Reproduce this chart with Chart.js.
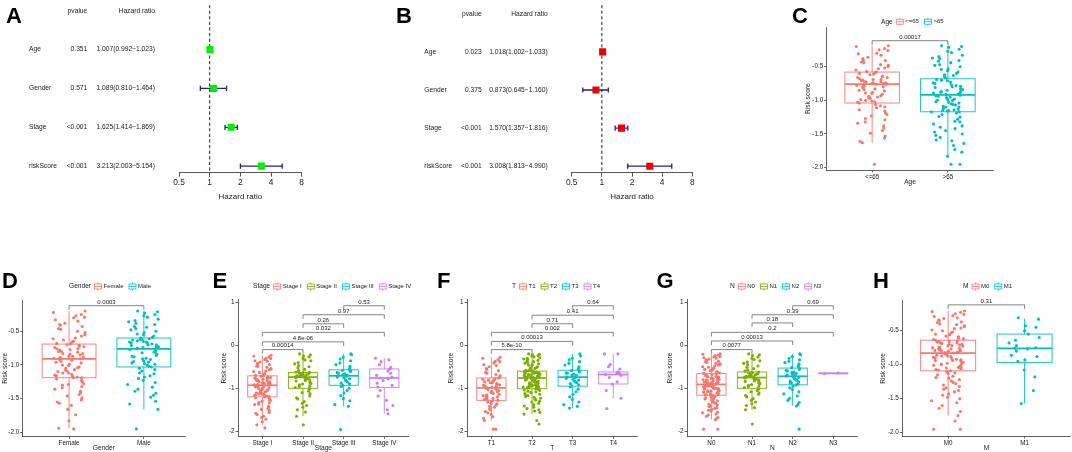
<!DOCTYPE html>
<html><head><meta charset="utf-8">
<script src="https://cdn.jsdelivr.net/npm/chart.js@4.4.1/dist/chart.umd.min.js"></script>
<style>
html,body{margin:0;padding:0;background:#fff;}
body{width:1072px;height:452px;position:relative;overflow:hidden;}
canvas{position:absolute;}
</style>
</head><body>
<script>
// ---------------- DATA ----------------
const forestVars = ['Age','Gender','Stage','riskScore'];
const uniP  = ['0.351','0.571','<0.001','<0.001'];
const uniHR = [1.007,1.089,1.625,3.213];
const uniLo = [0.992,0.810,1.414,2.003];
const uniHi = [1.023,1.464,1.869,5.154];
const multiP  = ['0.023','0.375','<0.001','<0.001'];
const multiHR = [1.018,0.873,1.570,3.008];
const multiLo = [1.002,0.645,1.357,1.813];
const multiHi = [1.033,1.160,1.816,4.990];
const hrTicks = [0.5,1,2,4,8];

const riskTicksDec = [-2,-1.5,-1,-0.5];
const riskLabelsDec = ['-2.0','-1.5','-1.0','-0.5'];
const riskTicksInt = [-2,-1,0,1];
const riskLabelsInt = ['-2','-1','0','1'];

const ageCats = ['<=65','>65'];
const genderCats = ['Female','Male'];
const stageCats = ['Stage I','Stage II','Stage III','Stage IV'];
const tCats = ['T1','T2','T3','T4'];
const nCats = ['N0','N1','N2','N3'];
const mCats = ['M0','M1'];

// box stats: [lower whisker, q1, median, q3, upper whisker]
const ageStats = [[-1.63,-1.04,-0.76,-0.58,-0.19],[-1.83,-1.17,-0.92,-0.68,-0.19]];
const genderStats = [[-1.94,-1.19,-0.91,-0.69,-0.2],[-1.66,-1.03,-0.76,-0.6,-0.2]];
const stageStats = [[-1.85,-1.2,-0.93,-0.71,-0.23],[-1.65,-1.0,-0.74,-0.63,-0.2],[-1.42,-0.93,-0.71,-0.57,-0.2],[-1.59,-0.98,-0.76,-0.55,-0.3]];
const tStats = [[-1.75,-1.28,-0.99,-0.76,-0.28],[-1.6,-1.01,-0.76,-0.6,-0.2],[-1.46,-0.95,-0.74,-0.58,-0.2],[-1.23,-0.9,-0.68,-0.62,-0.2]];
const nStats = [[-1.73,-1.16,-0.91,-0.66,-0.2],[-1.5,-1.0,-0.75,-0.62,-0.2],[-1.41,-0.92,-0.72,-0.53,-0.2],[-0.66,-0.658,-0.653,-0.648,-0.645]];
const mStats = [[-1.75,-1.09,-0.83,-0.64,-0.21],[-1.57,-0.97,-0.76,-0.55,-0.32]];

// comparisons: [group a, group b, p label, bracket level]
const ageBr = [[1,2,'0.00017',-0.114]];
const genderBr = [[1,2,'0.0003',-0.12]];
const stageBr = [[1,2,'0.00014',-0.1],[1,3,'4.8e-06',0.08],[1,4,'0.032',0.3],[2,3,'0.26',0.5],[2,4,'0.97',0.71],[3,4,'0.53',0.92]];
const tBr = [[1,2,'5.8e-10',-0.1],[1,3,'0.00013',0.09],[1,4,'0.002',0.3],[2,3,'0.71',0.5],[2,4,'0.41',0.7],[3,4,'0.64',0.92]];
const nBr = [[1,2,'0.0077',-0.1],[1,3,'0.00013',0.1],[1,4,'0.2',0.3],[2,3,'0.18',0.52],[2,4,'0.39',0.71],[3,4,'0.69',0.92]];
const mBr = [[1,2,'0.31',-0.12]];

// risk scores per group
const ageLe65 = [-0.19,-0.2,-0.23,-0.25,-0.26,-0.3,-0.31,-0.33,-0.36,-0.38,-0.4,-0.41,-0.43,-0.44,-0.47,-0.48,-0.5,-0.52,-0.53,-0.55,-0.57,-0.58,
-0.59,-0.6,-0.61,-0.62,-0.64,-0.65,-0.66,-0.66,-0.68,-0.69,-0.69,-0.7,-0.71,-0.72,-0.72,-0.73,-0.74,-0.74,-0.75,-0.75,-0.76,-0.76,-0.77,
-0.78,-0.79,-0.8,-0.81,-0.83,-0.84,-0.85,-0.86,-0.88,-0.89,-0.9,-0.91,-0.93,-0.94,-0.95,-0.96,-0.97,-0.99,-1.0,-1.01,-1.02,-1.03,-1.04,
-1.06,-1.08,-1.1,-1.11,-1.14,-1.16,-1.19,-1.21,-1.23,-1.27,-1.29,-1.32,-1.34,-1.38,-1.41,-1.45,-1.49,-1.53,-1.56,-1.61,-1.63,-1.95];
const ageGt65 = [-0.19,-0.2,-0.21,-0.24,-0.27,-0.29,-0.33,-0.35,-0.37,-0.38,-0.41,-0.42,-0.44,-0.47,-0.48,-0.5,-0.53,-0.54,-0.56,-0.58,-0.6,-0.62,-0.63,-0.65,-0.67,
-0.69,-0.7,-0.71,-0.73,-0.74,-0.75,-0.77,-0.78,-0.79,-0.8,-0.81,-0.83,-0.83,-0.84,-0.85,-0.87,-0.87,-0.88,-0.89,-0.9,-0.9,-0.91,-0.91,-0.92,-0.92,
-0.93,-0.94,-0.95,-0.96,-0.98,-0.99,-1.0,-1.0,-1.02,-1.03,-1.04,-1.05,-1.06,-1.07,-1.09,-1.1,-1.1,-1.12,-1.13,-1.14,-1.15,-1.15,-1.16,-1.17,-1.17,
-1.19,-1.21,-1.24,-1.25,-1.28,-1.31,-1.32,-1.35,-1.38,-1.4,-1.42,-1.45,-1.47,-1.5,-1.52,-1.55,-1.59,-1.6,-1.64,-1.67,-1.73,-1.77,-1.83,-1.95,-1.95];
const female = [-0.2,-0.22,-0.25,-0.27,-0.29,-0.3,-0.33,-0.35,-0.38,-0.4,-0.41,-0.43,-0.46,-0.47,-0.5,-0.52,-0.55,-0.57,-0.6,-0.61,-0.63,-0.65,-0.66,-0.68,
-0.69,-0.7,-0.71,-0.72,-0.73,-0.74,-0.76,-0.76,-0.77,-0.78,-0.8,-0.8,-0.81,-0.83,-0.83,-0.84,-0.85,-0.87,-0.87,-0.88,-0.89,-0.9,-0.9,-0.91,
-0.92,-0.93,-0.95,-0.96,-0.97,-0.99,-1.0,-1.01,-1.03,-1.04,-1.05,-1.07,-1.08,-1.09,-1.1,-1.12,-1.12,-1.14,-1.15,-1.16,-1.17,-1.18,-1.19,-1.19,
-1.21,-1.23,-1.25,-1.28,-1.29,-1.3,-1.32,-1.34,-1.36,-1.39,-1.41,-1.44,-1.46,-1.49,-1.52,-1.55,-1.57,-1.6,-1.66,-1.74,-1.83,-1.94,-1.95];
const male = [-0.2,-0.21,-0.23,-0.25,-0.27,-0.29,-0.32,-0.34,-0.36,-0.38,-0.4,-0.43,-0.44,-0.46,-0.48,-0.5,-0.52,-0.54,-0.55,-0.57,-0.59,
-0.6,-0.61,-0.62,-0.62,-0.63,-0.64,-0.65,-0.66,-0.66,-0.67,-0.68,-0.69,-0.7,-0.7,-0.71,-0.72,-0.73,-0.73,-0.74,-0.75,-0.75,-0.76,
-0.77,-0.78,-0.8,-0.81,-0.82,-0.84,-0.86,-0.87,-0.88,-0.9,-0.91,-0.92,-0.94,-0.95,-0.96,-0.97,-0.98,-0.99,-1.0,-1.02,-1.03,
-1.05,-1.07,-1.09,-1.12,-1.13,-1.16,-1.18,-1.2,-1.23,-1.26,-1.29,-1.33,-1.36,-1.39,-1.42,-1.45,-1.48,-1.54,-1.58,-1.66,-1.95];
const stageI = [-0.23,-0.25,-0.27,-0.3,-0.31,-0.33,-0.36,-0.37,-0.39,-0.42,-0.43,-0.45,-0.48,-0.49,-0.51,-0.54,-0.55,-0.57,-0.6,-0.61,-0.63,-0.66,-0.67,-0.7,
-0.71,-0.72,-0.73,-0.75,-0.75,-0.76,-0.78,-0.78,-0.79,-0.8,-0.82,-0.82,-0.83,-0.85,-0.85,-0.86,-0.88,-0.88,-0.89,-0.9,-0.91,-0.92,-0.92,-0.93,
-0.94,-0.95,-0.97,-0.97,-0.99,-1.0,-1.01,-1.03,-1.04,-1.05,-1.06,-1.08,-1.09,-1.1,-1.11,-1.13,-1.13,-1.14,-1.16,-1.16,-1.17,-1.18,-1.19,-1.2,
-1.22,-1.24,-1.27,-1.28,-1.3,-1.33,-1.34,-1.37,-1.38,-1.42,-1.44,-1.47,-1.49,-1.52,-1.56,-1.58,-1.61,-1.65,-1.68,-1.72,-1.78,-1.85,-1.92];
const stageII = [-0.2,-0.22,-0.25,-0.27,-0.31,-0.34,-0.36,-0.4,-0.43,-0.47,-0.5,-0.52,-0.56,-0.59,-0.62,
-0.63,-0.64,-0.65,-0.66,-0.66,-0.67,-0.68,-0.69,-0.69,-0.7,-0.71,-0.72,-0.72,-0.73,-0.74,
-0.75,-0.77,-0.78,-0.8,-0.82,-0.83,-0.85,-0.87,-0.89,-0.9,-0.92,-0.94,-0.96,-0.98,-1.0,
-1.03,-1.07,-1.1,-1.13,-1.18,-1.22,-1.25,-1.31,-1.35,-1.4,-1.44,-1.5,-1.55,-1.65,-1.85];
const stageIII = [-0.2,-0.22,-0.28,-0.32,-0.36,-0.41,-0.45,-0.49,-0.53,-0.56,
-0.58,-0.6,-0.61,-0.63,-0.65,-0.66,-0.68,-0.69,-0.7,-0.71,
-0.72,-0.74,-0.76,-0.78,-0.81,-0.83,-0.86,-0.88,-0.9,-0.93,
-0.96,-1.0,-1.05,-1.11,-1.17,-1.24,-1.29,-1.38,-1.42,-1.96];
const stageIV = [-0.3,-0.34,-0.38,-0.45,-0.52,-0.55,-0.6,-0.65,-0.7,-0.74,-0.76,-0.78,-0.82,-0.88,-0.93,-0.97,-1.05,-1.18,-1.28,-1.4,-1.5,-1.59];
const tT1 = [-0.28,-0.3,-0.33,-0.37,-0.38,-0.41,-0.45,-0.47,-0.5,-0.54,-0.56,-0.59,-0.63,-0.65,-0.68,-0.71,-0.74,
-0.76,-0.78,-0.79,-0.81,-0.82,-0.83,-0.85,-0.87,-0.87,-0.89,-0.9,-0.92,-0.93,-0.94,-0.95,-0.97,-0.98,-0.99,
-1.0,-1.02,-1.03,-1.05,-1.07,-1.08,-1.1,-1.12,-1.14,-1.15,-1.17,-1.19,-1.2,-1.21,-1.23,-1.25,-1.26,-1.28,
-1.3,-1.32,-1.35,-1.36,-1.39,-1.42,-1.44,-1.48,-1.5,-1.54,-1.57,-1.61,-1.66,-1.7,-1.75,-1.95,-1.95];
const tT2 = [-0.2,-0.21,-0.22,-0.24,-0.25,-0.27,-0.29,-0.3,-0.32,-0.33,-0.35,-0.37,-0.38,-0.4,-0.42,-0.43,-0.45,-0.46,-0.48,-0.5,-0.51,-0.53,-0.54,-0.55,-0.57,-0.58,-0.59,
-0.6,-0.61,-0.61,-0.62,-0.63,-0.63,-0.64,-0.65,-0.65,-0.66,-0.66,-0.67,-0.68,-0.68,-0.69,-0.7,-0.7,-0.71,-0.71,-0.72,-0.73,-0.73,-0.74,-0.74,-0.75,-0.75,-0.76,
-0.77,-0.78,-0.79,-0.8,-0.81,-0.82,-0.83,-0.84,-0.85,-0.86,-0.87,-0.88,-0.89,-0.9,-0.91,-0.92,-0.93,-0.94,-0.95,-0.96,-0.97,-0.97,-0.98,-0.99,-0.99,-1.0,-1.01,
-1.02,-1.04,-1.05,-1.07,-1.08,-1.1,-1.12,-1.14,-1.16,-1.17,-1.19,-1.21,-1.23,-1.26,-1.27,-1.3,-1.32,-1.35,-1.38,-1.41,-1.44,-1.47,-1.5,-1.53,-1.56,-1.6,-1.75,-1.83];
const tT3 = [-0.2,-0.25,-0.3,-0.34,-0.38,-0.42,-0.46,-0.5,-0.53,-0.56,
-0.59,-0.6,-0.62,-0.64,-0.65,-0.67,-0.69,-0.7,-0.72,-0.74,
-0.75,-0.77,-0.79,-0.81,-0.83,-0.85,-0.87,-0.89,-0.92,-0.94,
-0.97,-1.02,-1.08,-1.14,-1.2,-1.26,-1.32,-1.38,-1.42,-1.46];
const tT4 = [-0.2,-0.2,-0.45,-0.5,-0.55,-0.62,-0.64,-0.66,-0.68,-0.7,-0.75,-0.85,-0.9,-1.05,-1.23,-1.47];
const nN0 = [-0.2,-0.21,-0.23,-0.24,-0.26,-0.27,-0.29,-0.3,-0.32,-0.34,-0.35,-0.37,-0.38,-0.4,-0.42,-0.43,-0.45,-0.46,-0.48,-0.5,-0.51,-0.53,-0.55,-0.56,-0.58,-0.59,-0.61,-0.62,-0.64,-0.65,
-0.66,-0.67,-0.68,-0.69,-0.7,-0.71,-0.72,-0.73,-0.74,-0.75,-0.76,-0.77,-0.78,-0.79,-0.8,-0.8,-0.81,-0.82,-0.83,-0.84,-0.85,-0.86,-0.86,-0.87,-0.88,-0.88,-0.89,-0.9,-0.9,-0.91,
-0.92,-0.93,-0.94,-0.95,-0.95,-0.96,-0.97,-0.98,-0.99,-1.0,-1.0,-1.01,-1.02,-1.03,-1.04,-1.05,-1.06,-1.06,-1.07,-1.08,-1.09,-1.1,-1.11,-1.12,-1.12,-1.13,-1.14,-1.15,-1.15,-1.16,
-1.17,-1.19,-1.2,-1.22,-1.24,-1.25,-1.27,-1.29,-1.31,-1.33,-1.35,-1.37,-1.39,-1.41,-1.43,-1.45,-1.47,-1.49,-1.51,-1.53,-1.55,-1.57,-1.6,-1.62,-1.65,-1.68,-1.7,-1.73,-1.95,-1.95];
const nN1 = [-0.2,-0.22,-0.24,-0.27,-0.3,-0.33,-0.36,-0.39,-0.42,-0.45,-0.48,-0.51,-0.54,-0.57,-0.6,
-0.62,-0.63,-0.64,-0.65,-0.66,-0.67,-0.68,-0.69,-0.7,-0.71,-0.72,-0.72,-0.73,-0.74,-0.75,
-0.76,-0.78,-0.79,-0.81,-0.83,-0.84,-0.86,-0.88,-0.89,-0.91,-0.93,-0.94,-0.96,-0.98,-1.0,
-1.02,-1.05,-1.08,-1.11,-1.14,-1.17,-1.2,-1.24,-1.28,-1.32,-1.36,-1.4,-1.45,-1.5,-1.83];
const nN2 = [-0.2,-0.22,-0.26,-0.3,-0.34,-0.37,-0.4,-0.43,-0.46,-0.49,-0.52,
-0.54,-0.56,-0.58,-0.6,-0.62,-0.63,-0.65,-0.67,-0.69,-0.7,-0.72,
-0.73,-0.75,-0.77,-0.79,-0.81,-0.83,-0.85,-0.87,-0.88,-0.9,-0.92,
-0.95,-0.99,-1.03,-1.08,-1.13,-1.18,-1.23,-1.28,-1.33,-1.38,-1.41,-1.95];
const nN3 = [-0.66,-0.645];
const mM0 = [-0.21,-0.22,-0.23,-0.25,-0.26,-0.28,-0.29,-0.31,-0.32,-0.34,-0.35,-0.37,-0.38,-0.4,-0.41,-0.43,-0.44,-0.46,-0.47,-0.49,-0.5,-0.52,-0.53,-0.55,-0.56,-0.58,-0.59,-0.61,-0.62,-0.63,
-0.64,-0.65,-0.66,-0.66,-0.67,-0.68,-0.68,-0.69,-0.7,-0.7,-0.71,-0.72,-0.72,-0.73,-0.74,-0.75,-0.75,-0.76,-0.77,-0.77,-0.78,-0.79,-0.79,-0.8,-0.8,-0.81,-0.81,-0.82,-0.82,-0.83,
-0.84,-0.85,-0.86,-0.87,-0.87,-0.88,-0.89,-0.9,-0.91,-0.92,-0.93,-0.94,-0.94,-0.95,-0.96,-0.97,-0.98,-0.99,-1.0,-1.0,-1.01,-1.02,-1.03,-1.04,-1.05,-1.05,-1.06,-1.07,-1.08,-1.09,
-1.1,-1.12,-1.13,-1.15,-1.17,-1.19,-1.2,-1.22,-1.24,-1.26,-1.28,-1.3,-1.32,-1.34,-1.36,-1.38,-1.4,-1.43,-1.45,-1.48,-1.5,-1.53,-1.56,-1.6,-1.64,-1.69,-1.75,-1.83,-1.95,-1.95];
const mM1 = [-0.31,-0.33,-0.43,-0.45,-0.5,-0.55,-0.6,-0.64,-0.68,-0.72,-0.75,-0.76,-0.77,-0.8,-0.86,-0.88,-0.93,-0.95,-1.08,-1.18,-1.38,-1.57];

// ---------------- DRAWING ----------------
const FONT = "'Liberation Sans', Arial, Helvetica, sans-serif";
const TXT = '#1a1a1a', AX = '#3a3a3a';
const PAL2 = ['#F8766D','#00BFC4'];
const PAL4 = ['#F8766D','#7CAE00','#00BFC4','#C77CFF'];
// deterministic horizontal jitter offset (layout only), in category units
const jit = j => { const s = Math.sin((j + 1) * 12.9898 + 4.1414) * 43758.5453; return (s - Math.floor(s) - 0.5) * 0.44; };

function makeCanvas(r){
  const c = document.createElement('canvas');
  c.width = r.w; c.height = r.h;
  c.style.left = r.x + 'px'; c.style.top = r.y + 'px';
  c.style.width = r.w + 'px'; c.style.height = r.h + 'px';
  document.body.appendChild(c);
  return c;
}
function drawLetter(ctx, r, L){
  ctx.save(); ctx.font = `bold 22px ${FONT}`; ctx.fillStyle = '#000';
  ctx.textAlign = 'left'; ctx.textBaseline = 'alphabetic';
  ctx.fillText(L.t, L.x - r.x, L.y - r.y); ctx.restore();
}
function glyph(ctx, x, y, c){
  ctx.save(); ctx.strokeStyle = c; ctx.lineWidth = 0.8;
  ctx.strokeRect(x + 0.5, y - 2.5, 7, 5);
  ctx.beginPath();
  ctx.moveTo(x + 0.5, y); ctx.lineTo(x + 7.5, y);
  ctx.moveTo(x + 4, y - 2.5); ctx.lineTo(x + 4, y - 4.2);
  ctx.moveTo(x + 4, y + 2.5); ctx.lineTo(x + 4, y + 4.2);
  ctx.stroke(); ctx.restore();
}

function boxPanel(p){
  const r = p.canvas, a = p.area;
  const cv = makeCanvas(r);
  const yW = a.l - r.x, xH = r.y + r.h - a.b;
  const datasets = p.groups.map((vals, i) => ({
    data: vals.map((v, j) => ({x: i + 1 + jit(j + 37 * i), y: v})),
    backgroundColor: p.colors[i], borderWidth: 0, pointRadius: 1.55, pointHoverRadius: 1.55
  }));
  const plug = {
    id: 'boxes',
    beforeDatasetsDraw(chart){
      const ctx = chart.ctx, xs = chart.scales.x, ys = chart.scales.y;
      p.stats.forEach((s, i) => {
        const c = p.colors[i], x = i + 1, bw = 0.72;
        const xl = xs.getPixelForValue(x - bw / 2), xr = xs.getPixelForValue(x + bw / 2), xc = xs.getPixelForValue(x);
        const [lo, q1, md, q3, hi] = s.map(v => ys.getPixelForValue(v));
        ctx.save(); ctx.strokeStyle = c; ctx.lineWidth = 0.9;
        ctx.beginPath(); ctx.moveTo(xc, q3); ctx.lineTo(xc, hi); ctx.moveTo(xc, q1); ctx.lineTo(xc, lo); ctx.stroke();
        ctx.strokeRect(xl, q3, xr - xl, q1 - q3);
        ctx.lineWidth = 1.7; ctx.beginPath(); ctx.moveTo(xl, md); ctx.lineTo(xr, md); ctx.stroke();
        ctx.restore();
      });
    },
    afterDraw(chart){
      const ctx = chart.ctx, xs = chart.scales.x, ys = chart.scales.y, ca = chart.chartArea;
      ctx.save();
      const tipV = 0.03 * (p.yr[1] - p.yr[0]);
      p.brackets.forEach(([g1, g2, lab, lv]) => {
        const x1 = xs.getPixelForValue(g1), x2 = xs.getPixelForValue(g2);
        const y = ys.getPixelForValue(lv), yt = ys.getPixelForValue(lv - tipV);
        ctx.strokeStyle = '#666'; ctx.lineWidth = 0.8;
        ctx.beginPath(); ctx.moveTo(x1, yt); ctx.lineTo(x1, y); ctx.lineTo(x2, y); ctx.lineTo(x2, yt); ctx.stroke();
        ctx.fillStyle = TXT; ctx.font = `6px ${FONT}`; ctx.textAlign = 'center'; ctx.textBaseline = 'bottom';
        ctx.fillText(lab, (x1 + x2) / 2, y - 0.8);
      });
      ctx.fillStyle = TXT; ctx.font = `6.6px ${FONT}`; ctx.textAlign = 'center'; ctx.textBaseline = 'middle';
      ctx.fillText(p.xTitle, (ca.left + ca.right) / 2, ca.bottom + 12);
      ctx.save(); ctx.translate(ca.left - p.yTitleOff, (ca.top + ca.bottom) / 2); ctx.rotate(-Math.PI / 2);
      ctx.fillText('Risk score', 0, 0); ctx.restore();
      let lx = p.legend.x - r.x; const ly = p.legend.y - r.y;
      ctx.textAlign = 'left'; ctx.textBaseline = 'middle';
      ctx.font = `6.6px ${FONT}`; ctx.fillStyle = TXT;
      ctx.fillText(p.legend.title, lx, ly);
      lx += ctx.measureText(p.legend.title).width + 3;
      ctx.font = `6px ${FONT}`;
      p.cats.forEach((c, i) => {
        glyph(ctx, lx, ly, p.colors[i]); lx += 9.5;
        ctx.fillStyle = TXT; ctx.fillText(c, lx, ly);
        lx += ctx.measureText(c).width + 5;
      });
      ctx.restore();
      drawLetter(ctx, r, p.letter);
    }
  };
  const gridCfg = {drawOnChartArea: false, tickLength: 2.5, color: AX, lineWidth: 0.8};
  new Chart(cv, {
    type: 'scatter',
    data: {datasets},
    options: {
      responsive: false, animation: false, events: [], devicePixelRatio: 1,
      layout: {padding: {left: 0, right: r.x + r.w - a.r, top: a.t - r.y, bottom: 0}},
      plugins: {legend: {display: false}, tooltip: {enabled: false}},
      scales: {
        x: {type: 'linear', min: p.xr[0], max: p.xr[1],
            afterBuildTicks: s => { s.ticks = p.cats.map((c, i) => ({value: i + 1})); },
            afterFit: s => { s.height = xH; },
            ticks: {callback: (v, i) => p.cats[i], font: {family: FONT, size: 6.3}, color: TXT, padding: 0.5, maxRotation: 0, autoSkip: false},
            grid: gridCfg, border: {color: AX, width: 0.8}},
        y: {type: 'linear', min: p.yr[0], max: p.yr[1],
            afterBuildTicks: s => { s.ticks = p.yTicks.map(v => ({value: v})); },
            afterFit: s => { s.width = yW; },
            ticks: {callback: (v, i) => p.yLabels[i], font: {family: FONT, size: 6.3}, color: TXT, padding: 1, autoSkip: false},
            grid: gridCfg, border: {color: AX, width: 0.8}}
      }
    },
    plugins: [plug]
  });
}

function forestPanel(p){
  const r = p.canvas, a = p.area;
  const cv = makeCanvas(r);
  const plug = {
    id: 'forest',
    beforeDatasetsDraw(chart){
      const ctx = chart.ctx, xs = chart.scales.x, ys = chart.scales.y, ca = chart.chartArea;
      ctx.save();
      const x1 = xs.getPixelForValue(1);
      ctx.strokeStyle = '#222'; ctx.lineWidth = 1; ctx.setLineDash([3.2, 2.4]);
      ctx.beginPath(); ctx.moveTo(x1, ca.top); ctx.lineTo(x1, ca.bottom); ctx.stroke();
      ctx.setLineDash([]);
      ctx.strokeStyle = '#1f1f9c'; ctx.lineWidth = 1.3;
      p.hr.forEach((h, i) => {
        const y = ys.getPixelForValue(i + 1);
        const xl = xs.getPixelForValue(p.lo[i]), xr = xs.getPixelForValue(p.hi[i]);
        ctx.beginPath();
        ctx.moveTo(xl, y); ctx.lineTo(xr, y);
        ctx.moveTo(xl, y - 2.6); ctx.lineTo(xl, y + 2.6);
        ctx.moveTo(xr, y - 2.6); ctx.lineTo(xr, y + 2.6);
        ctx.stroke();
      });
      ctx.restore();
    },
    afterDraw(chart){
      const ctx = chart.ctx, ys = chart.scales.y, ca = chart.chartArea;
      ctx.save();
      ctx.fillStyle = TXT; ctx.font = `6.7px ${FONT}`; ctx.textBaseline = 'middle';
      const hy = ys.getPixelForValue(0);
      ctx.textAlign = 'right';
      ctx.fillText('pvalue', p.cols.p, hy);
      ctx.fillText('Hazard ratio', p.cols.hr, hy);
      forestVars.forEach((v, i) => {
        const y = ys.getPixelForValue(i + 1);
        ctx.textAlign = 'left'; ctx.fillText(v, p.cols.label, y);
        ctx.textAlign = 'right'; ctx.fillText(p.pv[i], p.cols.p, y);
        ctx.fillText(p.hr[i].toFixed(3) + '(' + p.lo[i].toFixed(3) + '\u2212' + p.hi[i].toFixed(3) + ')', p.cols.hr, y);
      });
      ctx.textAlign = 'center'; ctx.font = `8px ${FONT}`;
      ctx.fillText('Hazard ratio', (ca.left + ca.right) / 2, ca.bottom + 24);
      ctx.restore();
      drawLetter(ctx, r, p.letter);
    }
  };
  new Chart(cv, {
    type: 'scatter',
    data: {datasets: [{
      data: p.hr.map((h, i) => ({x: h, y: i + 1})),
      pointStyle: 'rect', pointRadius: 5, pointHoverRadius: 5, backgroundColor: p.color, borderWidth: 0
    }]},
    options: {
      responsive: false, animation: false, events: [], devicePixelRatio: 1,
      layout: {padding: {left: a.l - r.x, right: r.x + r.w - a.r, top: a.t - r.y, bottom: 0}},
      plugins: {legend: {display: false}, tooltip: {enabled: false}},
      scales: {
        x: {type: 'logarithmic', min: 0.5, max: 8,
            afterBuildTicks: s => { s.ticks = hrTicks.map(v => ({value: v})); },
            afterFit: s => { s.height = r.y + r.h - a.b; },
            ticks: {callback: v => String(v), font: {family: FONT, size: 8.4}, color: TXT, padding: 1, maxRotation: 0, autoSkip: false},
            grid: {drawOnChartArea: false, tickLength: 4, color: '#555', lineWidth: 1},
            border: {color: '#555', width: 1}},
        y: {type: 'linear', display: false, reverse: true, min: p.yr[0], max: p.yr[1]}
      }
    },
    plugins: [plug]
  });
}

forestPanel({canvas: {x: 0, y: 0, w: 385, h: 205}, area: {l: 179, r: 301.7, t: 0, b: 172.7},
  yr: [-0.15, 4.17], cols: {label: 29, p: 87.3, hr: 155}, pv: uniP, hr: uniHR, lo: uniLo, hi: uniHi,
  color: '#00EE00', letter: {t: 'A', x: 6, y: 23}});
forestPanel({canvas: {x: 385, y: 0, w: 375, h: 205}, area: {l: 571.7, r: 692.3, t: 0, b: 172.7},
  yr: [-0.23, 4.17], cols: {label: 39.3, p: 96.7, hr: 162.7}, pv: multiP, hr: multiHR, lo: multiLo, hi: multiHi,
  color: '#EE0000', letter: {t: 'B', x: 396, y: 23}});

boxPanel({canvas: {x: 760, y: 0, w: 312, h: 200}, area: {l: 826.7, r: 993.3, t: 27.3, b: 170},
  xr: [0.4, 2.6], yr: [-2.035, 0.085], yTicks: riskTicksDec, yLabels: riskLabelsDec,
  cats: ageCats, colors: PAL2, groups: [ageLe65, ageGt65], stats: ageStats, brackets: ageBr,
  xTitle: 'Age', yTitleOff: 19, legend: {title: 'Age', x: 881, y: 21.7}, letter: {t: 'C', x: 792, y: 23}});
boxPanel({canvas: {x: 0, y: 262, w: 212, h: 190}, area: {l: 22.7, r: 185, t: 300.3, b: 436.3},
  xr: [0.38, 2.55], yr: [-2.06, -0.04], yTicks: riskTicksDec, yLabels: riskLabelsDec,
  cats: genderCats, colors: PAL2, groups: [female, male], stats: genderStats, brackets: genderBr,
  xTitle: 'Gender', yTitleOff: 17.7, legend: {title: 'Gender', x: 69, y: 286.5}, letter: {t: 'D', x: 2, y: 288}});
boxPanel({canvas: {x: 212, y: 262, w: 224, h: 190}, area: {l: 238, r: 408.7, t: 299.7, b: 436.3},
  xr: [0.4, 4.6], yr: [-2.116, 1.06], yTicks: riskTicksInt, yLabels: riskLabelsInt,
  cats: stageCats, colors: PAL4, groups: [stageI, stageII, stageIII, stageIV], stats: stageStats, brackets: stageBr,
  xTitle: 'Stage', yTitleOff: 13.5, legend: {title: 'Stage', x: 253, y: 286.5}, letter: {t: 'E', x: 212.5, y: 288}});
boxPanel({canvas: {x: 436, y: 262, w: 220, h: 190}, area: {l: 467, r: 637.7, t: 299.7, b: 436.3},
  xr: [0.4, 4.6], yr: [-2.116, 1.06], yTicks: riskTicksInt, yLabels: riskLabelsInt,
  cats: tCats, colors: PAL4, groups: [tT1, tT2, tT3, tT4], stats: tStats, brackets: tBr,
  xTitle: 'T', yTitleOff: 15.5, legend: {title: 'T', x: 512, y: 286.5}, letter: {t: 'F', x: 437, y: 288}});
boxPanel({canvas: {x: 656, y: 262, w: 212, h: 190}, area: {l: 687, r: 857.7, t: 299.7, b: 436.3},
  xr: [0.4, 4.6], yr: [-2.116, 1.06], yTicks: riskTicksInt, yLabels: riskLabelsInt,
  cats: nCats, colors: PAL4, groups: [nN0, nN1, nN2, nN3], stats: nStats, brackets: nBr,
  xTitle: 'N', yTitleOff: 16.5, legend: {title: 'N', x: 730, y: 286.5}, letter: {t: 'G', x: 656.5, y: 288}});
boxPanel({canvas: {x: 868, y: 262, w: 204, h: 190}, area: {l: 902.3, r: 1071.7, t: 300.7, b: 436},
  xr: [0.4, 2.6], yr: [-2.049, -0.059], yTicks: riskTicksDec, yLabels: riskLabelsDec,
  cats: mCats, colors: PAL2, groups: [mM0, mM1], stats: mStats, brackets: mBr,
  xTitle: 'M', yTitleOff: 19.3, legend: {title: 'M', x: 963, y: 286.5}, letter: {t: 'H', x: 873, y: 288}});
</script>
</body></html>
